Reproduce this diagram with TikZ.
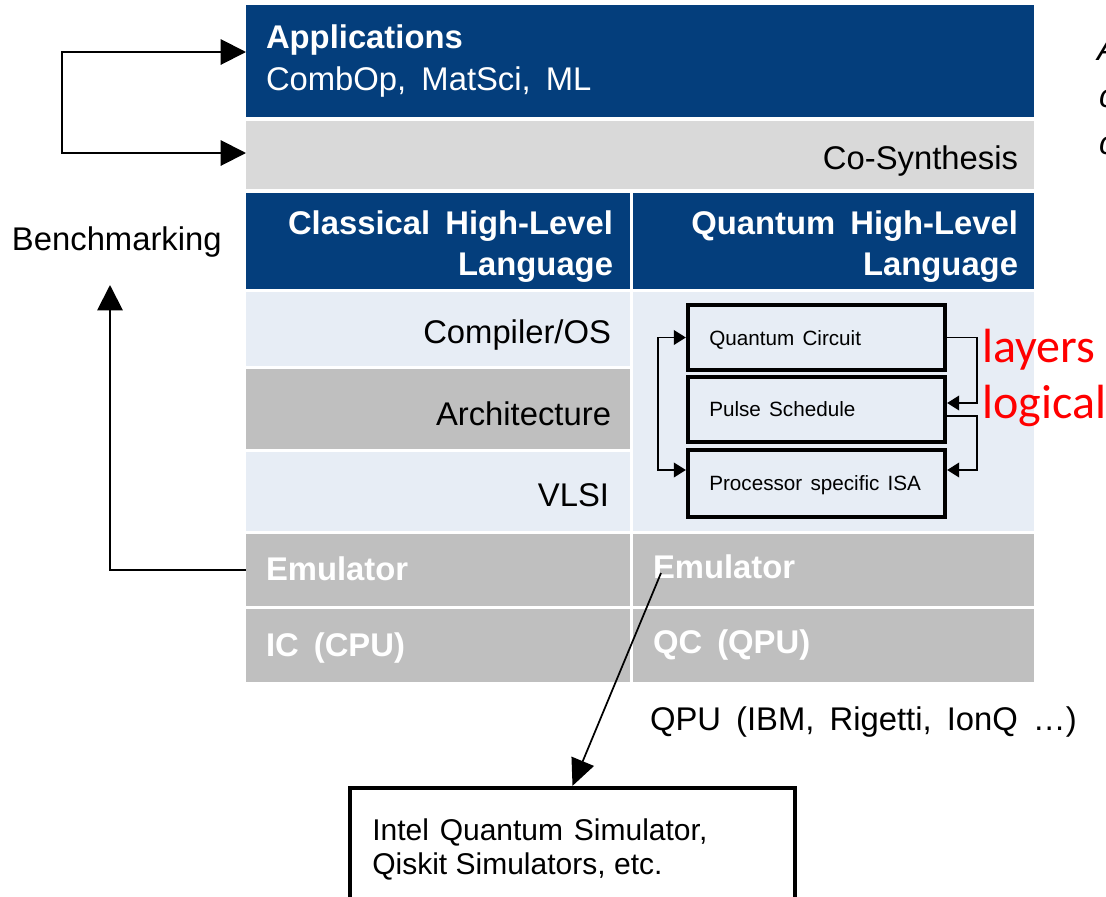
\documentclass[tikz,border=0pt]{standalone}
\usepackage{fontspec}
\setmainfont{Liberation Sans}
\newfontfamily\carl{Carlito}
\usetikzlibrary{arrows.meta,fit}
\definecolor{navy}{RGB}{4,62,124}
\definecolor{lgray}{RGB}{217,217,217}
\definecolor{mgray}{RGB}{191,191,191}
\definecolor{lblue}{RGB}{231,237,245}
\definecolor{lred}{RGB}{255,0,0}
\newcommand\myBig{\fontsize{24.6}{29}\selectfont\spaceskip=0.46em\relax}
\newcommand\mySmall{\fontsize{15.5}{19}\selectfont\spaceskip=0.4em\relax}
\newcommand\mySim{\fontsize{22.5}{27}\selectfont\spaceskip=0.36em\relax}
\newcommand\mySimB{\fontsize{22.5}{27}\selectfont\spaceskip=0.28em\relax}
\begin{document}
\begin{tikzpicture}[x=0.75pt,y=-0.75pt,
  cellbox/.style={inner sep=0pt, outer sep=0pt, draw=none},
  navycell/.style={cellbox, fill=navy},
  lgcell/.style={cellbox, fill=lgray},
  mgcell/.style={cellbox, fill=mgray},
  lbcell/.style={cellbox, fill=lblue},
  lbl/.style={inner sep=0pt, outer sep=0pt, font=\myBig},
  wlbl/.style={lbl, text=white},
  wblbl/.style={inner sep=0pt, outer sep=0pt, text=white, font=\myBig\bfseries},
  qbox/.style={draw=black, line width=3.2pt, inner sep=0pt},
  qlbl/.style={inner sep=0pt, anchor=base west, font=\mySmall},
  redlbl/.style={inner sep=0pt, anchor=base west, text=lred, font=\carl\fontsize{36}{43}\selectfont},
  bigarr/.style={line width=1.5pt, -{Triangle[length=19pt,width=19pt]}},
  bigarr2/.style={line width=1.5pt, {Triangle[length=19pt,width=19pt]}-{Triangle[length=19pt,width=19pt]}},
  smallarr/.style={line width=1.1pt, -{Triangle[length=9pt,width=11pt]}},
  smallarr2/.style={line width=1.1pt, {Triangle[length=9pt,width=11pt]}-{Triangle[length=9pt,width=11pt]}},
  diagarr/.style={line width=1.3pt, -{Triangle[length=20pt,width=18pt]}},
]
\useasboundingbox (0,0) rectangle (1106,896);
\clip (0,0) rectangle (1106,896);

% cells
\node[navycell, fit={(246,5)(1034,117)}] (app) {};
\node[lgcell, fit={(246,121)(1034,189)}] (cs) {};
\node[navycell, fit={(246,193)(630,289)}] (clh) {};
\node[navycell, fit={(633,193)(1034,289)}] (qhl) {};
\node[lbcell, fit={(246,292)(630,366)}] (comp) {};
\node[mgcell, fit={(246,369)(630,449)}] (arch) {};
\node[lbcell, fit={(246,452)(630,531)}] (vlsi) {};
\node[lbcell, fit={(633,292)(1034,531)}] (qbody) {};
\node[mgcell, fit={(246,534)(630,606)}] (emuL) {};
\node[mgcell, fit={(633,534)(1034,606)}] (emuR) {};
\node[mgcell, fit={(246,609)(630,682)}] (ic) {};
\node[mgcell, fit={(633,609)(1034,682)}] (qc) {};

% labels
\node[wblbl, anchor=base west] (appT) at (266,48) {Applications};
\node[wlbl, anchor=base west] (appS) at (266,90) {CombOp, MatSci, ML};
\node[lbl, anchor=base east] (csT) at (1018,169) {Co-Synthesis};
\node[wblbl, anchor=base east] (clT1) at (613,234) {Classical High-Level};
\node[wblbl, anchor=base east] (clT2) at (613,275) {Language};
\node[wblbl, anchor=base east] (qhT1) at (1018,234) {Quantum High-Level};
\node[wblbl, anchor=base east] (qhT2) at (1018,275) {Language};
\node[lbl, anchor=base east] (compT) at (611,343) {Compiler/OS};
\node[lbl, anchor=base east] (archT) at (611,425) {Architecture};
\node[lbl, anchor=base east] (vlsiT) at (609,506) {VLSI};
\node[wblbl, anchor=base west] (emuLT) at (266,580) {Emulator};
\node[wblbl, anchor=base west] (emuRT) at (653,578) {Emulator};
\node[wblbl, anchor=base west] (icT) at (266,656) {IC (CPU)};
\node[wblbl, anchor=base west] (qcT) at (653,653) {QC (QPU)};
\node[lbl, anchor=base west] (qpuT) at (650,730) {QPU (IBM, Rigetti, IonQ …)};
\node[lbl, anchor=base west] (bench) at (12,250) {Benchmarking};

% cut-off text at top right
\node[lbl, anchor=base west, font=\myBig\itshape] (cutA) at (1097,60) {A};
\node[lbl, anchor=base west, font=\myBig\itshape] (cutB) at (1099,107) {c};
\node[lbl, anchor=base west, font=\myBig\itshape] (cutC) at (1099,154) {c};

% quantum stack
\node[qbox, fit={(688,305)(945,370)}] (q1) {};
\node[qbox, fit={(688,377)(945,442)}] (q2) {};
\node[qbox, fit={(688,450)(945,517)}] (q3) {};
\node[qlbl] (q1T) at (709,345) {Quantum Circuit};
\node[qlbl] (q2T) at (709,416) {Pulse Schedule};
\node[qlbl] (q3T) at (709,490) {Processor specific ISA};

\draw[smallarr2] (q1.west) -- ++(-28,0) |- (q3.west |- 0,470);
\draw[smallarr] (q1.east) -- ++(30,0) |- (q2.east |- 0,403);
\draw[smallarr] (q2.east |- 0,416) -- ++(30,0) |- (q3.east |- 0,470);

\node[redlbl] (layersT) at (982,362) {layers};
\node[redlbl] (logicalT) at (982,418) {logical};

% benchmarking connectors
\coordinate (bk1) at (62,52);
\coordinate (bk2) at (62,153);
\draw[bigarr2] (app.west |- bk1) -- (bk1) -- (bk2) -- (cs.west |- bk2);
\coordinate (benchTip) at (110,285);
\draw[bigarr] (emuL.west) -| (benchTip);

% simulator
\node[qbox, fit={(350,788)(795,910)}] (sim) {};
\node[inner sep=0pt, anchor=base west, font=\mySim] (simT1) at (372,840) {Intel Quantum Simulator,};
\node[inner sep=0pt, anchor=base west, font=\mySimB] (simT2) at (372,874) {Qiskit Simulators, etc.};
\coordinate (ds) at (661,573);
\draw[diagarr] (ds) -- (sim.north);
\end{tikzpicture}
\end{document}
